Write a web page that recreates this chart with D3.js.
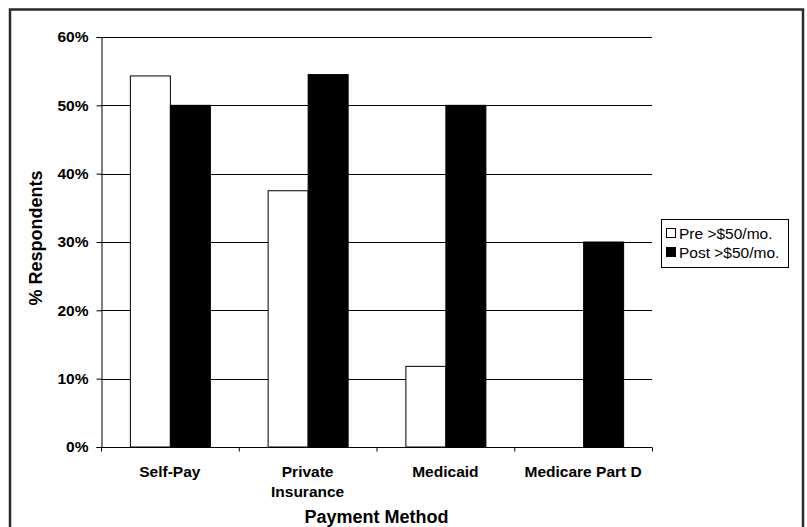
<!DOCTYPE html>
<html>
<head>
<meta charset="utf-8">
<script src="https://cdn.jsdelivr.net/npm/d3@7/dist/d3.min.js"></script>
<style>
  html, body { margin: 0; padding: 0; background: #fff; }
  svg { display: block; font-family: Arial, "Liberation Sans", sans-serif; }
</style>
</head>
<body>
<svg id="chart" width="807" height="527"></svg>
<script>
// Payment method categories (second entry wraps onto two lines)
const categories = ["Self-Pay", "Private Insurance", "Medicaid", "Medicare Part D"];
const categoryLines = [["Self-Pay"], ["Private", "Insurance"], ["Medicaid"], ["Medicare Part D"]];
const seriesNames = ["Pre >$50/mo.", "Post >$50/mo."];
const preValues = [0.543, 0.375, 0.118, 0];
const postValues = [0.50, 0.545, 0.50, 0.30];
const yTicks = [0, 0.1, 0.2, 0.3, 0.4, 0.5, 0.6];
const seriesFill = ["#ffffff", "#000000"];

const svg = d3.select("#chart");
const plot = { left: 101, right: 652, top: 37, bottom: 447 };

// outer frame
svg.append("rect")
  .attr("x", 10).attr("y", 9.5)
  .attr("width", 793).attr("height", 540)
  .attr("fill", "#fff").attr("stroke", "#2a2a2a").attr("stroke-width", 2.5);

const y = d3.scaleLinear().domain([0, 0.6]).range([plot.bottom, plot.top]);
const x = d3.scaleBand().domain(categories).range([plot.left, plot.right]).padding(0);
const barW = 40;
const xs = d3.scaleBand().domain(seriesNames)
  .range([(x.bandwidth() - 2 * barW) / 2, (x.bandwidth() + 2 * barW) / 2]).padding(0);

// horizontal gridlines
svg.append("g").selectAll("line").data(yTicks.filter(d => d > 0)).join("line")
  .attr("x1", plot.left).attr("x2", plot.right)
  .attr("y1", d => Math.round(y(d)) + 0.5).attr("y2", d => Math.round(y(d)) + 0.5)
  .attr("stroke", "#000").attr("stroke-width", 1);

// bars
const rows = categories.map((c, i) => ({ c, vals: [preValues[i], postValues[i]] }));
const groups = svg.append("g").selectAll("g").data(rows).join("g")
  .attr("transform", d => `translate(${x(d.c)},0)`);
groups.selectAll("rect")
  .data(d => d.vals.map((v, j) => ({ v, s: seriesNames[j], j })).filter(e => e.v > 0))
  .join("rect")
  .attr("x", e => xs(e.s) + 0.5)
  .attr("y", e => y(e.v))
  .attr("width", xs.bandwidth())
  .attr("height", e => y(0) - y(e.v))
  .attr("fill", e => seriesFill[e.j])
  .attr("stroke", "#000").attr("stroke-width", 1);

// y axis
const yAxis = d3.axisLeft(y).tickValues(yTicks).tickFormat(d3.format(".0%"))
  .tickSize(5).tickPadding(8);
const gy = svg.append("g").attr("transform", `translate(${plot.left + 0.5},0)`).call(yAxis);
gy.select(".domain").attr("stroke", "#000");
gy.selectAll(".tick line").attr("stroke", "#000");
gy.selectAll(".tick text")
  .attr("font-size", "15.5px").attr("font-weight", "bold").attr("fill", "#000")
  .attr("font-family", "Arial, 'Liberation Sans', sans-serif");

// x axis with ticks on category boundaries
const gx = svg.append("g").attr("transform", `translate(0,${plot.bottom + 0.5})`);
gx.append("line").attr("x1", plot.left).attr("x2", plot.right).attr("stroke", "#000");
gx.selectAll(".bt").data(categories.concat(["__end"])).join("line")
  .attr("class", "bt")
  .attr("x1", (d, i) => (i < categories.length ? x(d) : plot.right) + 0.5)
  .attr("x2", (d, i) => (i < categories.length ? x(d) : plot.right) + 0.5)
  .attr("y1", 0).attr("y2", 4).attr("stroke", "#000");

// category labels
const lab = svg.append("g").selectAll("text").data(categories).join("text")
  .attr("x", d => x(d) + x.bandwidth() / 2)
  .attr("y", 476.5)
  .attr("text-anchor", "middle")
  .attr("font-size", "15.5px").attr("font-weight", "bold");
lab.selectAll("tspan").data((d, i) => categoryLines[i]).join("tspan")
  .attr("x", function () { return d3.select(this.parentNode).attr("x"); })
  .attr("dy", (d, i) => i === 0 ? 0 : 20.5)
  .text(d => d);

// axis titles
svg.append("text")
  .attr("x", (plot.left + plot.right) / 2).attr("y", 522.5)
  .attr("text-anchor", "middle").attr("font-size", "18px").attr("font-weight", "bold")
  .text("Payment Method");
svg.append("text")
  .attr("transform", `translate(42,${(plot.top + plot.bottom) / 2 - 4}) rotate(-90)`)
  .attr("text-anchor", "middle").attr("font-size", "18px").attr("font-weight", "bold")
  .text("% Respondents");

// legend
const lg = svg.append("g");
lg.append("rect").attr("x", 661.5).attr("y", 219.5).attr("width", 127).attr("height", 48)
  .attr("fill", "#fff").attr("stroke", "#000").attr("stroke-width", 1);
const items = lg.selectAll("g").data(seriesNames).join("g")
  .attr("transform", (d, i) => `translate(666,${233 + i * 19})`);
items.append("rect").attr("x", 0.5).attr("y", -4.5).attr("width", 9).attr("height", 9)
  .attr("fill", (d, i) => seriesFill[i]).attr("stroke", "#000");
items.append("text").attr("x", 13).attr("y", 5.5)
  .attr("font-size", "15.5px").text(d => d);
</script>
</body>
</html>
